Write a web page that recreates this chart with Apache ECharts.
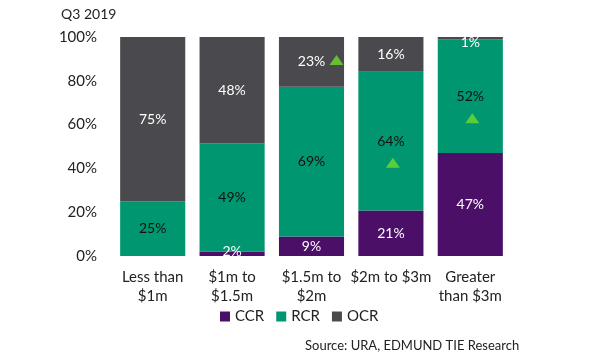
<!DOCTYPE html>
<html><head><meta charset="utf-8">
<script src="https://cdn.jsdelivr.net/npm/echarts@6/dist/echarts.min.js"></script>
<style>html,body{margin:0;padding:0;background:#fff}#c{width:600px;height:360px}</style>
</head><body><div id="c"></div>
<script>
var categories = ['Less than\n$1m', '$1m to\n$1.5m', '$1.5m to\n$2m', '$2m to $3m', 'Greater\nthan $3m'];
var ccr = [0, 2, 9, 21, 47];
var rcr = [25, 49, 69, 64, 52];
var ocr = [75, 48, 23, 16, 1];
var yTicks = [0, 20, 40, 60, 80, 100];
var arrowCats = ['$1.5m to\n$2m', '$2m to $3m', 'Greater\nthan $3m'];
var arrowVals = [89.5, 42.6, 62.9];

var FONT = 'Lato';
var cPurple = '#4b0f68', cGreen = '#00966f', cGray = '#4a494d', cArrow = '#6fdc2f';

// 100% stacked: each segment drawn as share of its column total, labelled with the printed value
var totals = categories.map(function (_, i) { return ccr[i] + rcr[i] + ocr[i]; });
function items(arr, special) {
  return arr.map(function (v, i) {
    var o = { value: v / totals[i] * 100, raw: v };
    if (special && special[i]) o.label = special[i];
    return o;
  });
}
function lbl(color) {
  return { show: true, position: 'inside', color: color, fontSize: 14, fontFamily: FONT,
    formatter: function (p) { return p.data.raw > 0 ? p.data.raw + '%' : ''; } };
}

var chart = echarts.init(document.getElementById('c'), null, { renderer: 'canvas' });
chart.setOption({
  animation: false,
  textStyle: { fontFamily: FONT },
  title: [
    { text: 'Q3 2019', left: 61, top: 7, padding: 0, textStyle: { fontSize: 14, fontWeight: 'normal', color: '#222', fontFamily: FONT } },
    { text: 'Source: URA, EDMUND TIE Research', left: 305, top: 339, padding: 0, textStyle: { fontSize: 13, fontWeight: 'normal', color: '#222', fontFamily: FONT } }
  ],
  legend: {
    data: ['CCR', 'RCR', 'OCR'], left: 220, top: 309, padding: 0, itemWidth: 10, itemHeight: 10, itemGap: 12,
    icon: 'rect', textStyle: { fontSize: 15, color: '#222', fontFamily: FONT }
  },
  grid: { left: 113, right: 90, top: 37, bottom: 104 },
  xAxis: {
    type: 'category', data: categories,
    axisLine: { show: false }, axisTick: { show: false },
    axisLabel: { fontSize: 15, color: '#222', lineHeight: 19, margin: 12, fontFamily: FONT, interval: 0 }
  },
  yAxis: {
    type: 'value', min: 0, max: 100, interval: 20,
    splitLine: { show: false }, axisLine: { show: false }, axisTick: { show: false },
    axisLabel: { fontSize: 15, color: '#222', margin: 16, fontFamily: FONT,
      formatter: function (v) { return yTicks.indexOf(v) >= 0 ? v + '%' : ''; } }
  },
  series: [
    { name: 'CCR', type: 'bar', stack: 's', barCategoryGap: '18%',
      data: items(ccr, { 1: { position: 'insideBottom', distance: -2, color: '#fff' } }),
      itemStyle: { color: cPurple }, label: lbl('#fff') },
    { name: 'RCR', type: 'bar', stack: 's', data: items(rcr), itemStyle: { color: cGreen },
      label: lbl('#111') },
    { name: 'OCR', type: 'bar', stack: 's',
      data: items(ocr, { 4: { position: 'insideTop', distance: -2, color: '#fff' } }),
      itemStyle: { color: cGray }, label: lbl('#fff') },
    { name: 'arrow', type: 'scatter', symbol: 'triangle', symbolSize: [14, 10], z: 5,
      data: arrowCats.map(function (c, i) {
        return { value: [c, arrowVals[i]], symbolOffset: i === 0 ? [25, 0] : [2, 0] };
      }),
      itemStyle: { color: cArrow } }
  ]
});
</script></body></html>
